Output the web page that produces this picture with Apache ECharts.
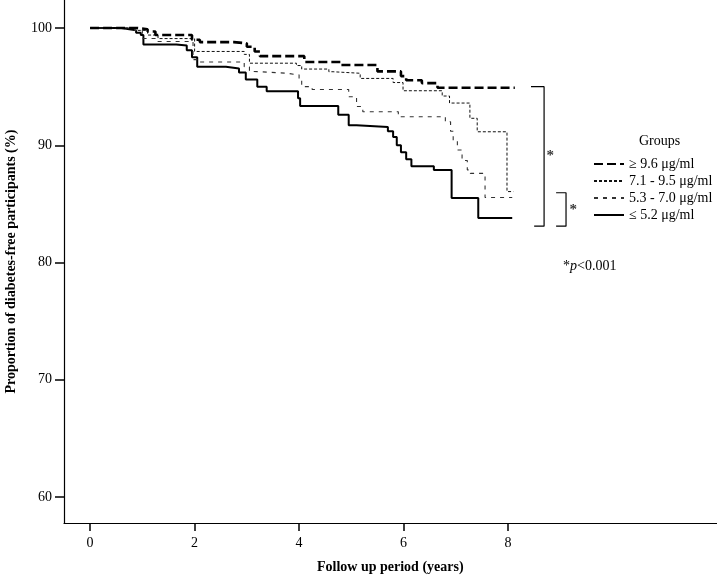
<!DOCTYPE html>
<html>
<head>
<meta charset="utf-8">
<script src="https://cdn.jsdelivr.net/npm/echarts@6/dist/echarts.min.js"></script>
<style>html,body{margin:0;padding:0;background:#fff}#c{width:717px;height:580px}</style>
</head>
<body>
<div id="c"></div>
<script>
// ---- data (Kaplan-Meier steps: time in years, proportion %) ----
const groupNames = ['\u2265 9.6 \u03bcg/ml', '7.1 - 9.5 \u03bcg/ml', '5.3 - 7.0 \u03bcg/ml', '\u2264 5.2 \u03bcg/ml'];

const tHigh = [0, 0.9, 1.1, 1.25, 1.95, 2.1, 2.75, 3.0, 3.15, 3.25, 4.1, 4.8, 5.5, 5.95, 6.05, 6.35, 6.65, 8.13];
const sHigh = [100, 99.9, 99.7, 99.4, 99.0, 98.8, 98.7, 98.4, 98.0, 97.6, 97.1, 96.85, 96.3, 95.9, 95.55, 95.3, 94.9, 94.9];

const tMidHigh = [0, 0.9, 1.1, 1.3, 2.0, 2.95, 3.05, 3.95, 4.05, 4.57, 4.65, 5.17, 5.8, 5.99, 6.74, 6.88, 7.27, 7.41, 7.98, 8.1];
const sMidHigh = [100, 99.8, 99.4, 99.1, 98.0, 97.75, 97.0, 96.8, 96.5, 96.27, 96.14, 95.7, 95.35, 94.65, 94.2, 93.6, 92.3, 91.15, 86.05, 86.05];

const tMidLow = [0, 0.85, 1.0, 1.3, 1.97, 2.1, 2.95, 3.05, 3.12, 3.75, 4.0, 4.05, 4.25, 4.95, 5.1, 5.22, 5.9, 6.8, 6.9, 6.95, 7.03, 7.12, 7.22, 7.28, 7.56, 8.08];
const sMidLow = [100, 99.8, 99.1, 98.85, 97.3, 97.1, 96.7, 96.3, 96.15, 96.0, 95.6, 95.0, 94.75, 94.14, 93.3, 92.86, 92.43, 92.0, 91.2, 90.4, 89.6, 88.7, 87.9, 87.6, 85.55, 85.55];

const tLow = [0, 0.6, 0.75, 0.88, 0.97, 1.02, 1.65, 1.85, 1.95, 2.05, 2.6, 2.85, 2.98, 3.2, 3.38, 3.98, 4.02, 4.75, 4.95, 5.1, 5.7, 5.8, 5.87, 5.95, 6.05, 6.15, 6.58, 6.92, 7.43, 8.08];
const sLow = [100, 99.9, 99.8, 99.6, 99.4, 98.6, 98.5, 98.1, 97.5, 96.7, 96.55, 96.2, 95.6, 95.0, 94.6, 94.0, 93.35, 92.6, 91.7, 91.55, 91.2, 90.7, 90.0, 89.4, 88.8, 88.2, 87.9, 85.5, 83.8, 83.8];

const xTicks = [0, 2, 4, 6, 8];
const yTicks = [60, 70, 80, 90, 100];

// significance brackets (data coordinates)
const bracketBig = [[8.44, 95.0], [8.69, 95.0], [8.69, 83.1], [8.5, 83.1]];
const bracketSmall = [[8.92, 85.95], [9.11, 85.95], [9.11, 83.1], [8.92, 83.1]];
const starPoints = [[8.81, 89.1], [9.25, 84.5]];

// ---- chart ----
const zip = (t, s) => t.map((x, i) => [x, s[i]]);
const serif = 'Liberation Serif, Times New Roman, serif';

const styles = [
  { width: 2.6, type: [9, 4], color: '#000' },
  { width: 1, type: [3, 2], color: '#111' },
  { width: 1.1, type: [4, 5], color: '#333' },
  { width: 2, type: 'solid', color: '#000' }
];
const datas = [zip(tHigh, sHigh), zip(tMidHigh, sMidHigh), zip(tMidLow, sMidLow), zip(tLow, sLow)];

const series = datas.map((d, i) => ({
  name: groupNames[i],
  type: 'line',
  step: 'end',
  data: d,
  symbol: 'none',
  showSymbol: false,
  lineStyle: styles[i],
  itemStyle: { color: styles[i].color },
  animation: false,
  z: 5 - i
}));

[bracketBig, bracketSmall].forEach(b => series.push({
  type: 'line', data: b, symbol: 'none', silent: true, animation: false,
  lineStyle: { color: '#000', width: 1.2 }, itemStyle: { color: '#000' }
}));
series.push({
  type: 'scatter', data: starPoints, symbolSize: 0, silent: true, animation: false,
  label: { show: true, position: 'inside', formatter: '*', fontFamily: serif, fontSize: 15, fontWeight: 'bold', color: '#000' }
});

const chart = echarts.init(document.getElementById('c'), null, { renderer: 'canvas' });
chart.setOption({
  backgroundColor: '#fff',
  animation: false,
  grid: { left: 64, right: 0, top: 0, bottom: 57, containLabel: false, outerBoundsMode: 'none' },
  xAxis: {
    type: 'value', min: -0.5, max: 12,
    axisLine: { show: true, onZero: false, lineStyle: { color: '#000', width: 1.2 } },
    axisTick: { show: true, customValues: xTicks, length: 8, lineStyle: { color: '#000', width: 1.5 } },
    axisLabel: { customValues: xTicks, margin: 13, fontFamily: serif, fontSize: 14, color: '#000' },
    splitLine: { show: false }
  },
  yAxis: {
    type: 'value', min: 57.78, max: 102.39,
    axisLine: { show: true, onZero: false, lineStyle: { color: '#000', width: 1.2 } },
    axisTick: { show: true, customValues: yTicks, length: 9, lineStyle: { color: '#000', width: 1.5 } },
    axisLabel: { customValues: yTicks, margin: 12, fontFamily: serif, fontSize: 14, color: '#000' },
    splitLine: { show: false },
    name: 'Proportion of diabetes-free participants (%)',
    nameLocation: 'middle', nameGap: 46, nameRotate: 90,
    nameTextStyle: { fontFamily: serif, fontSize: 14, fontWeight: 'bold', color: '#000' }
  },
  legend: {
    data: groupNames,
    orient: 'vertical', left: 588, top: 152,
    itemWidth: 30, itemHeight: 12, itemGap: 3,
    itemStyle: { opacity: 0 },
    textStyle: { fontFamily: serif, fontSize: 14, color: '#000' },
    selectedMode: false
  },
  graphic: [
    { type: 'text', left: 639, top: 134, style: { text: 'Groups', font: '14px ' + serif, fill: '#000' } },
    { type: 'text', left: 317, top: 560, style: { text: 'Follow up period (years)', font: 'bold 14px ' + serif, fill: '#000', textAlign: 'center' } },
    { type: 'text', left: 563, top: 259, style: {
        text: '{a|*}{b|p}{a|<0.001}',
        rich: { a: { fontFamily: serif, fontSize: 14, fill: '#000', color: '#000' },
                b: { fontFamily: serif, fontSize: 14, fontStyle: 'italic', color: '#000' } } } }
  ],
  series: series
});
</script>
</body>
</html>
